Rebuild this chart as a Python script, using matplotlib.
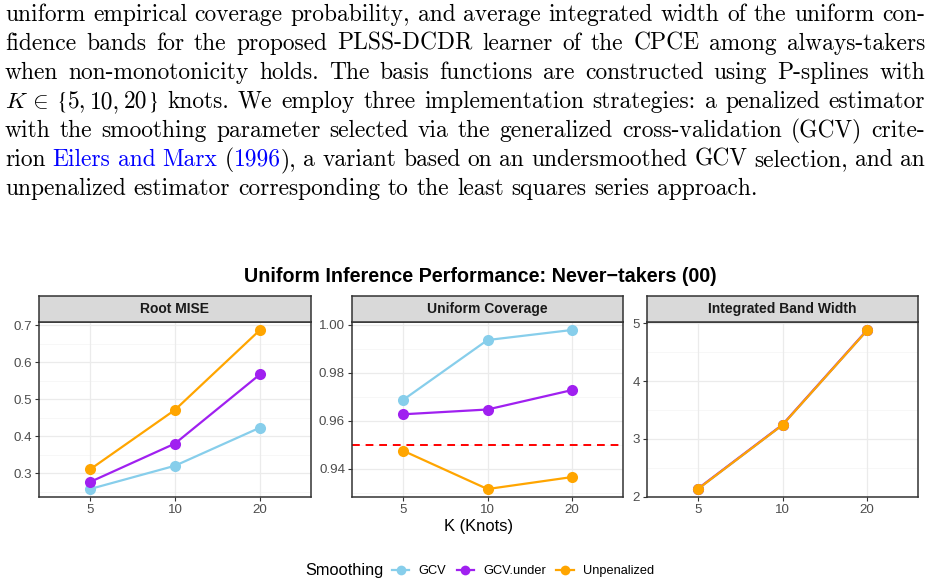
import matplotlib
matplotlib.use("Agg")
import matplotlib.pyplot as plt
from matplotlib.lines import Line2D
import numpy as np

plt.rcParams['font.family'] = ['Liberation Sans', 'DejaVu Sans']
plt.rcParams['mathtext.fontset'] = 'cm'

W, H, DPI = 932, 586, 100

# ---------------- data ----------------
knots = ["5", "10", "20"]
methods = ["GCV", "GCV.under", "Unpenalized"]
method_colors = ["#87CEEB", "#A020F0", "#FFA500"]

root_mise_gcv = [0.257, 0.320, 0.423]
root_mise_under = [0.276, 0.380, 0.567]
root_mise_unpen = [0.310, 0.471, 0.687]

coverage_gcv = [0.9686, 0.9936, 0.9978]
coverage_under = [0.9627, 0.9647, 0.9728]
coverage_unpen = [0.9476, 0.9316, 0.9366]
nominal_level = 0.95

width_gcv = [2.13, 3.24, 4.88]
width_under = [2.135, 3.245, 4.885]
width_unpen = [2.13, 3.24, 4.88]

panel_titles = ["Root MISE", "Uniform Coverage", "Integrated Band Width"]
yticks_mise = [0.3, 0.4, 0.5, 0.6, 0.7]
yticks_cov = [0.94, 0.96, 0.98, 1.00]
yticks_width = [2, 3, 4, 5]

chart_title = "Uniform Inference Performance: Never\u2212takers (00)"
x_label = "K (Knots)"
legend_title = "Smoothing"

# segment markup: words split by spaces, segments by "|";
# "@" = blue (citation), "#" = STIX glyph, "~" = thin space
para_lines = [
    "uniform empirical coverage probability, and average integrated width of the uniform con-",
    "fidence bands for the proposed PLSS-DCDR learner of the CPCE among always-takers",
    "when non-monotonicity holds. The basis functions are constructed using P-splines with",
    r"$K$|$\in$ #{|5,|~|10,|~|20|#} knots. We employ three implementation strategies: a penalized estimator",
    "with the smoothing parameter selected via the generalized cross-validation (GCV) crite-",
    "rion @Eilers @and @Marx (|@1996|), a variant based on an undersmoothed GCV selection, and an",
    "unpenalized estimator corresponding to the least squares series approach.",
]

# ---------------- figure ----------------
fig = plt.figure(figsize=(W / DPI, H / DPI), dpi=DPI)
fig.patch.set_facecolor("white")


def fx(px):
    return px / W


def fy(py):
    return 1 - py / H


# ---------------- paragraph (justified) ----------------
renderer = fig.canvas.get_renderer()
PFONT = 16.9
EM = PFONT * DPI / 72
left_px, right_px = 5, 925
base0, lstep = 21, 29
blue = "#0000FF"

for li, line in enumerate(para_lines):
    ybase = base0 + li * lstep
    words = line.split(" ")
    wobjs = []
    for w in words:
        segs = []
        for s in w.split("|"):
            if s == "~":
                segs.append((None, 0.17 * EM))
                continue
            col = "black"
            fam = ['cmr10', 'DejaVu Serif']
            if s.startswith("@"):
                s = s[1:]
                col = blue
            if s.startswith("#"):
                s = s[1:]
                fam = ['STIXGeneral', 'DejaVu Serif']
            t = fig.text(0, fy(ybase), s, family=fam,
                         fontsize=PFONT, color=col, va="baseline", ha="left")
            wd = t.get_window_extent(renderer=renderer).width
            segs.append((t, wd))
        wobjs.append(segs)
    widths = [sum(wd for _, wd in segs) for segs in wobjs]
    total = sum(widths)
    last = li == len(para_lines) - 1
    if last:
        gap = 0.333 * EM
    else:
        gap = (right_px - left_px - total) / (len(words) - 1)
    x = left_px
    for segs, wsum in zip(wobjs, widths):
        xx = x
        for t, wd in segs:
            if t is not None:
                t.set_x(fx(xx))
            xx += wd
        x += wsum + gap

# ---------------- chart ----------------
panels_x = [(39, 311), (352, 623), (647, 918)]
top_px, bot_px, strip_top = 322, 497, 296
series = [
    [root_mise_gcv, root_mise_under, root_mise_unpen],
    [coverage_gcv, coverage_under, coverage_unpen],
    [width_gcv, width_under, width_unpen],
]
yticks_all = [yticks_mise, yticks_cov, yticks_width]
fmts = ["{:.1f}", "{:.2f}", "{:.0f}"]
xpos = np.arange(len(knots))
border = "#333333"

for pi, (x0, x1) in enumerate(panels_x):
    ax = fig.add_axes([fx(x0), fy(bot_px), (x1 - x0) / W, (bot_px - top_px) / H])
    vals = np.concatenate([np.array(s) for s in series[pi]])
    lo, hi = vals.min(), vals.max()
    if pi == 1:
        lo, hi = min(lo, nominal_level), max(hi, nominal_level)
    pad = (hi - lo) * 0.05
    ax.set_ylim(lo - pad, hi + pad)
    ax.set_xlim(-0.6, len(knots) - 1 + 0.6)
    yt = yticks_all[pi]
    ax.set_yticks(yt)
    ax.set_yticklabels([fmts[pi].format(v) for v in yt])
    ax.set_xticks(xpos)
    ax.set_xticklabels(knots)
    # grid
    for v in yt:
        ax.axhline(v, color="#EBEBEB", lw=0.9, zorder=0)
    step = yt[1] - yt[0]
    minors = np.arange(yt[0] - step / 2, yt[-1] + step, step)
    for v in minors:
        ax.axhline(v, color="#F4F4F4", lw=0.5, zorder=0)
    for xv in xpos:
        ax.axvline(xv, color="#EBEBEB", lw=0.9, zorder=0)
    if pi == 1:
        ax.axhline(nominal_level, color="red", lw=1.4, ls=(0, (4, 3)), zorder=1)
    for s, c in zip(series[pi], method_colors):
        ax.plot(xpos, s, color=c, lw=1.6, marker="o", ms=8, mew=0, zorder=3)
    for sp in ax.spines.values():
        sp.set_color(border)
        sp.set_linewidth(1.1)
    ax.tick_params(length=3, width=0.8, color=border, labelcolor="#4D4D4D",
                   labelsize=9.6, pad=2)
    # strip
    sax = fig.add_axes([fx(x0), fy(top_px), (x1 - x0) / W, (top_px - strip_top) / H])
    sax.set_facecolor("#D9D9D9")
    sax.set_xticks([])
    sax.set_yticks([])
    for sp in sax.spines.values():
        sp.set_color(border)
        sp.set_linewidth(1.1)
    sax.text(0.5, 0.5, panel_titles[pi], transform=sax.transAxes, ha="center",
             va="center", fontsize=10, fontweight="bold", color="#1A1A1A")

fig.text(fx(480), fy(277), chart_title, ha="center", va="center",
         fontsize=14.2, fontweight="bold", color="black")
fig.text(fx(478), fy(526), x_label, ha="center", va="center", fontsize=11.9,
         color="black")

handles = [Line2D([], [], color=c, lw=1.6, marker="o", ms=7, mew=0)
           for c in method_colors]
fig.text(fx(305), fy(571), legend_title, ha="left", va="center", fontsize=11.8)
fig.legend(handles, methods, loc="center left", bbox_to_anchor=(fx(392), fy(571)),
           ncol=3, frameon=False, fontsize=9.2, handlelength=1.35,
           handletextpad=0.75, columnspacing=0.8, borderpad=0, borderaxespad=0)

fig.savefig("out.png", dpi=DPI)
